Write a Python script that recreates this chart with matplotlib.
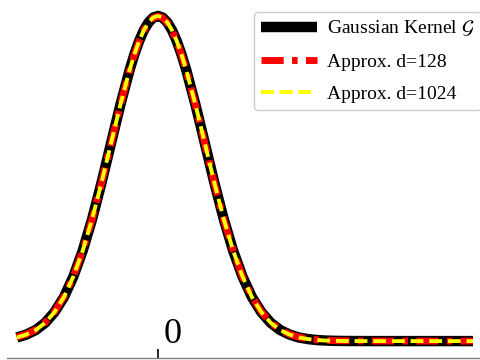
import matplotlib
matplotlib.use("Agg")
import matplotlib.pyplot as plt
import matplotlib.transforms as mtransforms

# sample positions and kernel values
x_vals = [-3.0, -2.8, -2.6, -2.4, -2.2, -2.0, -1.8, -1.6, -1.4, -1.2, -1.0,
          -0.8, -0.6, -0.5, -0.4, -0.3, -0.2, -0.1, 0.0, 0.1, 0.2, 0.3, 0.4,
          0.5, 0.6, 0.8, 1.0, 1.2, 1.4, 1.6, 1.8, 2.0, 2.2, 2.4, 2.6, 2.8,
          3.0, 3.2, 3.4, 3.6, 3.8, 4.0, 4.5, 5.0, 5.5, 6.0, 6.5, 6.7]
gauss = [0.011, 0.020, 0.034, 0.056, 0.089, 0.135, 0.198, 0.278, 0.375,
         0.487, 0.607, 0.726, 0.835, 0.882, 0.923, 0.956, 0.980, 0.995, 1.000,
         0.995, 0.980, 0.956, 0.923, 0.882, 0.835, 0.726, 0.607, 0.487, 0.375,
         0.278, 0.198, 0.135, 0.089, 0.056, 0.034, 0.020, 0.011, 0.006, 0.003,
         0.0015, 0.0007, 0.0003, 0.0, 0.0, 0.0, 0.0, 0.0, 0.0]
approx_128 = [0.012, 0.021, 0.035, 0.057, 0.090, 0.136, 0.198, 0.278, 0.374,
              0.486, 0.606, 0.725, 0.834, 0.881, 0.922, 0.955, 0.979, 0.994,
              0.999, 0.994, 0.979, 0.955, 0.922, 0.881, 0.834, 0.725, 0.606,
              0.486, 0.374, 0.278, 0.198, 0.136, 0.090, 0.057, 0.035, 0.021,
              0.012, 0.007, 0.004, 0.002, 0.001, 0.001, 0.0, 0.0, 0.0, 0.0,
              0.0, 0.0]
approx_1024 = [0.011, 0.020, 0.034, 0.056, 0.089, 0.135, 0.198, 0.278, 0.375,
               0.487, 0.607, 0.726, 0.835, 0.882, 0.923, 0.956, 0.980, 0.995,
               1.000, 0.995, 0.980, 0.956, 0.923, 0.882, 0.835, 0.726, 0.607,
               0.487, 0.375, 0.278, 0.198, 0.135, 0.089, 0.056, 0.034, 0.020,
               0.011, 0.006, 0.003, 0.0015, 0.0007, 0.0003, 0.0, 0.0, 0.0,
               0.0, 0.0, 0.0]

plt.rcParams['font.family'] = ['Liberation Serif', 'DejaVu Serif']
plt.rcParams['mathtext.fontset'] = 'stix'

fig = plt.figure(figsize=(4.8, 3.6), dpi=100)
ax = fig.add_axes([7 / 480, 2 / 360, 473 / 480, 358 / 360])

ax.plot(x_vals, gauss, color='black', lw=7.5, solid_capstyle='butt',
        label=r'Gaussian Kernel $\mathcal{G}$')
ax.plot(x_vals, approx_128, color='red', lw=5, dashes=(3.2, 1.2, 0.8, 1.2),
        label='Approx. d=128')
ax.plot(x_vals, approx_1024, color='yellow', lw=2.8, dashes=(3.3, 1.5),
        label='Approx. d=1024')

ax.set_xlim(-3.21, 6.85)
ax.set_ylim(-0.052, 1.049)

for side in ['left', 'right', 'top']:
    ax.spines[side].set_visible(False)
ax.spines['bottom'].set_color('gray')
ax.spines['bottom'].set_linewidth(1.0)

ax.set_yticks([])
ax.set_xticks([0])
ax.set_xticklabels(['0'])
ax.tick_params(axis='x', direction='in', length=6.5, width=1.2,
               labelsize=26, pad=-29)
shift = mtransforms.ScaledTranslation(15 / 100, 0, fig.dpi_scale_trans)
for lbl in ax.get_xticklabels():
    lbl.set_transform(lbl.get_transform() + shift)

ax.legend(loc='upper left', bbox_to_anchor=(0.522, 0.966), borderaxespad=0,
          fontsize=14, handlelength=2.9, handletextpad=0.5, borderpad=0.35,
          labelspacing=0.75, framealpha=1, edgecolor='#cccccc')

fig.savefig('out.png', dpi=100)
